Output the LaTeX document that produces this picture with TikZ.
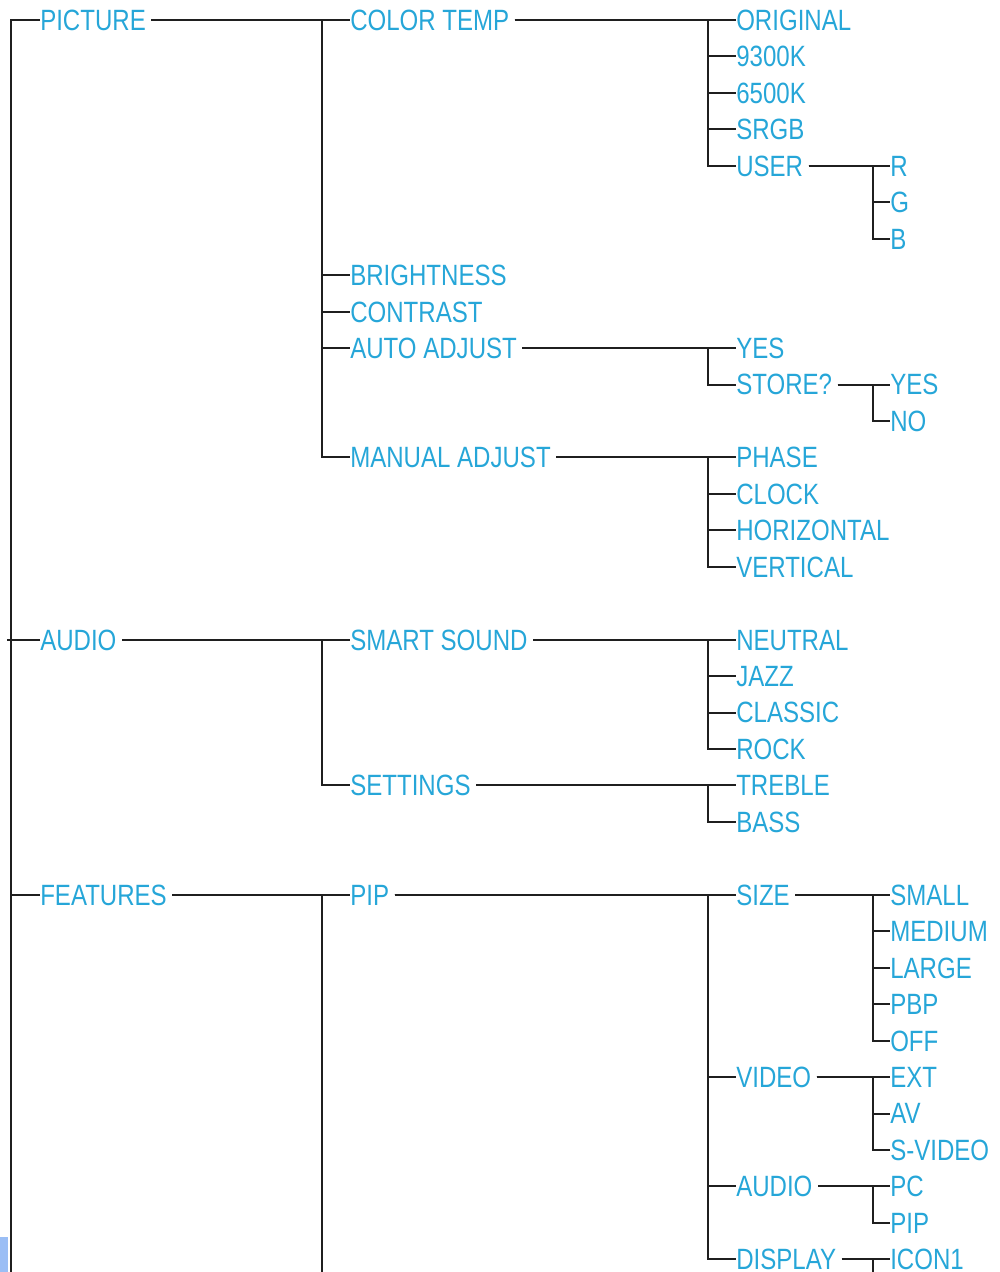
\documentclass[tikz,border=0pt]{standalone}
\usepackage{fontspec}
\newfontfamily\menufont[FakeStretch=0.82]{Liberation Sans}
\definecolor{menublue}{RGB}{38,166,216}
\definecolor{cornerblue}{RGB}{155,190,245}
\tikzset{
  lbl/.style={anchor=west, inner sep=0pt, text=menublue,
    font={\menufont\fontsize{22}{22}\selectfont}, text height=15.6pt, text depth=0pt},
  ln/.style={line width=1.5pt, draw=black!88},
}
\newcommand\branch[3]{\draw[ln] ([xshift=4pt]#1.east) -- (#1.east -| #2) |- (#3.west);}
\begin{document}
\begin{tikzpicture}[x=0.75pt,y=-0.75pt]
\useasboundingbox (0,0) rectangle (1000,1272);
\coordinate (X0) at (11,0);
\coordinate (X0l) at (7,0);
\coordinate (X1) at (322,0);
\coordinate (X2) at (708,0);
\coordinate (X3) at (873,0);
\coordinate (bot) at (0,1272);
% column 0
\node[lbl] (picture) at (40,20) {PICTURE};
\node[lbl] (audio) at (40,639.65) {AUDIO};
\node[lbl] (features) at (40,894.8) {FEATURES};
% column 1
\node[lbl] (colortemp) at (350,20) {COLOR TEMP};
\node[lbl] (brightness) at (350,275.15) {BRIGHTNESS};
\node[lbl] (contrast) at (350,311.6) {CONTRAST};
\node[lbl] (autoadj) at (350,348.05) {AUTO ADJUST};
\node[lbl] (manadj) at (350,457.4) {MANUAL ADJUST};
\node[lbl] (smart) at (350,639.65) {SMART SOUND};
\node[lbl] (settings) at (350,785.45) {SETTINGS};
\node[lbl] (pip) at (350,894.8) {PIP};
% column 2
\node[lbl] (original) at (736,20) {ORIGINAL};
\node[lbl] (k9300) at (736,56.45) {9300K};
\node[lbl] (k6500) at (736,92.9) {6500K};
\node[lbl] (srgb) at (736,129.35) {SRGB};
\node[lbl] (user) at (736,165.8) {USER};
\node[lbl] (ayes) at (736,348.05) {YES};
\node[lbl] (store) at (736,384.5) {STORE?};
\node[lbl] (phase) at (736,457.4) {PHASE};
\node[lbl] (clock) at (736,493.85) {CLOCK};
\node[lbl] (horiz) at (736,530.3) {HORIZONTAL};
\node[lbl] (vert) at (736,566.75) {VERTICAL};
\node[lbl] (neutral) at (736,639.65) {NEUTRAL};
\node[lbl] (jazz) at (736,676.1) {JAZZ};
\node[lbl] (classic) at (736,712.55) {CLASSIC};
\node[lbl] (rock) at (736,749) {ROCK};
\node[lbl] (treble) at (736,785.45) {TREBLE};
\node[lbl] (bass) at (736,821.9) {BASS};
\node[lbl] (size) at (736,894.8) {SIZE};
\node[lbl] (video) at (736,1077.05) {VIDEO};
\node[lbl] (faudio) at (736,1186.4) {AUDIO};
\node[lbl] (display) at (736,1259.3) {DISPLAY};
% column 3
\node[lbl] (r) at (890,165.8) {R};
\node[lbl] (g) at (890,202.25) {G};
\node[lbl] (b) at (890,238.7) {B};
\node[lbl] (syes) at (890,384.5) {YES};
\node[lbl] (sno) at (890,420.95) {NO};
\node[lbl] (small) at (890,894.8) {SMALL};
\node[lbl] (medium) at (890,931.25) {MEDIUM};
\node[lbl] (large) at (890,967.7) {LARGE};
\node[lbl] (pbp) at (890,1004.15) {PBP};
\node[lbl] (off) at (890,1040.6) {OFF};
\node[lbl] (ext) at (890,1077.05) {EXT};
\node[lbl] (av) at (890,1113.5) {AV};
\node[lbl] (svideo) at (890,1149.95) {S-VIDEO};
\node[lbl] (pc) at (890,1186.4) {PC};
\node[lbl] (pip2) at (890,1222.85) {PIP};
\node[lbl] (icon1) at (890,1259.3) {ICON1};
% root spine
\draw[ln] (picture.west) -| (X0 |- bot);
\draw[ln] (audio.west) -- (audio.west -| X0l);
\draw[ln] (features.west) -- (features.west -| X0);
% level 1
\foreach \c in {colortemp,brightness,contrast,autoadj,manadj} {\branch{picture}{X1}{\c}}
\foreach \c in {smart,settings} {\branch{audio}{X1}{\c}}
\branch{features}{X1}{pip}
\draw[ln] (features.east -| X1) -- (X1 |- bot);
% level 2
\foreach \c in {original,k9300,k6500,srgb,user} {\branch{colortemp}{X2}{\c}}
\foreach \c in {ayes,store} {\branch{autoadj}{X2}{\c}}
\foreach \c in {phase,clock,horiz,vert} {\branch{manadj}{X2}{\c}}
\foreach \c in {neutral,jazz,classic,rock} {\branch{smart}{X2}{\c}}
\foreach \c in {treble,bass} {\branch{settings}{X2}{\c}}
\foreach \c in {size,video,faudio,display} {\branch{pip}{X2}{\c}}
% level 3
\foreach \c in {r,g,b} {\branch{user}{X3}{\c}}
\foreach \c in {syes,sno} {\branch{store}{X3}{\c}}
\foreach \c in {small,medium,large,pbp,off} {\branch{size}{X3}{\c}}
\foreach \c in {ext,av,svideo} {\branch{video}{X3}{\c}}
\foreach \c in {pc,pip2} {\branch{faudio}{X3}{\c}}
\branch{display}{X3}{icon1}
\draw[ln] (display.east -| X3) -- (X3 |- bot);
% corner mark
\fill[cornerblue] (0,1237) rectangle (8,1272);
\end{tikzpicture}
\end{document}
